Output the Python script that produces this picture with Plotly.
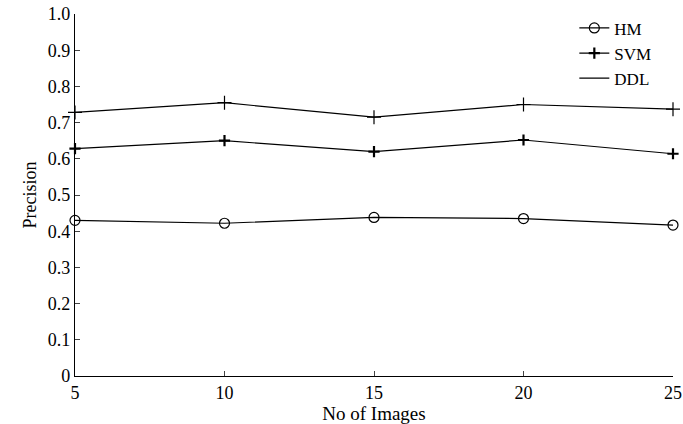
import plotly.graph_objects as go

x_vals = [5, 10, 15, 20, 25]
hm = [0.430, 0.422, 0.438, 0.435, 0.417]
svm = [0.628, 0.650, 0.620, 0.652, 0.614]
ddl = [0.728, 0.755, 0.715, 0.750, 0.737]
y_ticks = [0, 0.1, 0.2, 0.3, 0.4, 0.5, 0.6, 0.7, 0.8, 0.9, 1.0]
y_tick_text = ["0", "0.1", "0.2", "0.3", "0.4", "0.5", "0.6", "0.7", "0.8", "0.9", "1.0"]
x_ticks = [5, 10, 15, 20, 25]

font = "Liberation Serif, Times New Roman, serif"
fig = go.Figure()
fig.add_trace(go.Scatter(x=x_vals, y=hm, name="HM", mode="lines+markers",
                         line=dict(color="black", width=1.2),
                         marker=dict(symbol="circle-open", size=10, color="black", line=dict(width=1.2)),
                         cliponaxis=False))
fig.add_trace(go.Scatter(x=x_vals, y=svm, name="SVM", mode="lines+markers",
                         line=dict(color="black", width=1.2),
                         marker=dict(symbol="cross-thin-open", size=8, color="black", line=dict(width=2.2)),
                         cliponaxis=False))
fig.add_trace(go.Scatter(x=x_vals, y=ddl, name="DDL", mode="lines",
                         line=dict(color="black", width=1.2), cliponaxis=False))
fig.add_trace(go.Scatter(x=x_vals, y=ddl, name="DDL", mode="markers", showlegend=False,
                         marker=dict(symbol="cross-thin-open", size=10, color="black", line=dict(width=1.2)),
                         cliponaxis=False))

fig.update_layout(
    width=683, height=424,
    margin=dict(l=75, r=10, t=14, b=48),
    paper_bgcolor="white", plot_bgcolor="white",
    font=dict(family=font, size=18, color="black"),
    showlegend=True,
    legend=dict(x=0.835, y=1.01, xanchor="left", yanchor="top",
                bgcolor="rgba(0,0,0,0)", font=dict(family=font, size=17),
                tracegroupgap=0, itemwidth=30),
    xaxis=dict(range=[5, 25], tickvals=x_ticks, ticks="inside", ticklen=5,
               showline=True, linecolor="black", linewidth=1.2, mirror=False,
               showgrid=False, zeroline=False, automargin=False,
               title=dict(text="No of Images", font=dict(family=font, size=19), standoff=0),
               tickfont=dict(family=font, size=18)),
    yaxis=dict(range=[0, 1], tickvals=y_ticks, ticktext=y_tick_text, ticks="inside", ticklen=5,
               showline=True, linecolor="black", linewidth=1.2, mirror=False,
               showgrid=False, zeroline=False, automargin=False,
               title=dict(text="Precision", font=dict(family=font, size=18), standoff=6),
               tickfont=dict(family=font, size=18)),
)
fig.write_html("out.html")
